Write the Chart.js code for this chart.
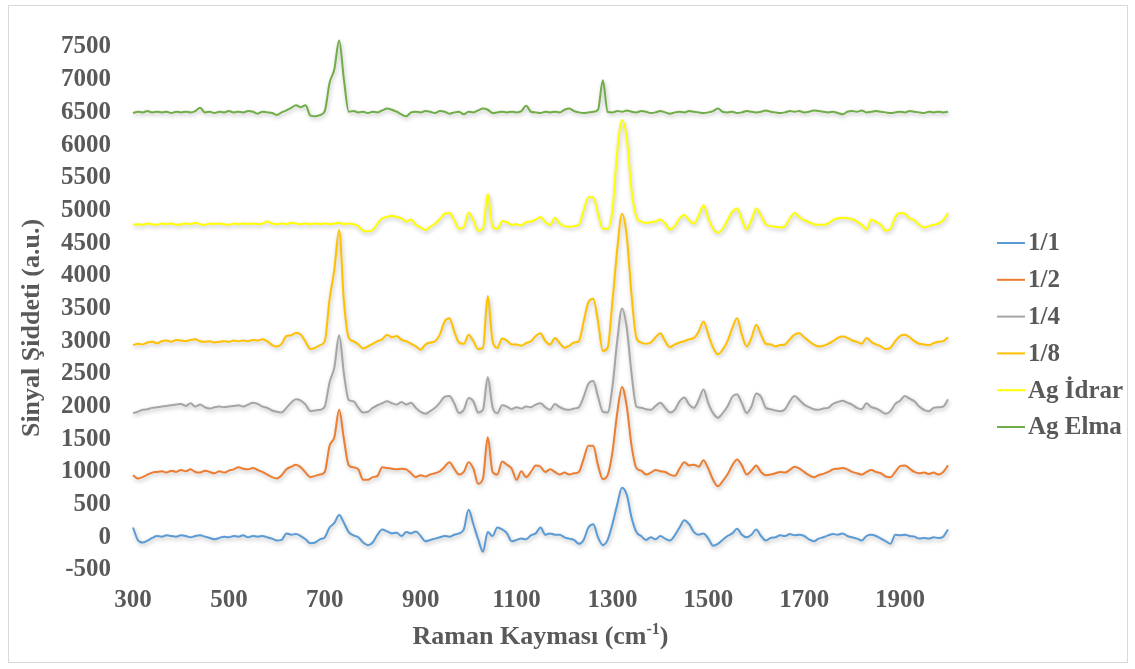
<!DOCTYPE html>
<html><head><meta charset="utf-8">
<script src="https://cdn.jsdelivr.net/npm/chart.js@4.4.1/dist/chart.umd.min.js"></script>
<style>html,body{margin:0;padding:0;background:#fff;} canvas{display:block;}</style>
</head><body>
<canvas id="c" width="1135" height="669"></canvas>
<script>
// ---- DATA ----
const ramanShift = [
 300,310,320,330,340,350,360,370,380,390,
 400,410,420,430,440,450,460,470,480,490,
 500,510,520,530,540,550,560,570,580,590,
 600,610,620,630,640,650,660,670,680,690,
 700,710,720,730,740,750,760,770,780,790,
 800,810,820,830,840,850,860,870,880,890,
 900,910,920,930,940,950,960,970,980,990,
 1000,1010,1020,1030,1040,1050,1060,1070,1080,1090,
 1100,1110,1120,1130,1140,1150,1160,1170,1180,1190,
 1200,1210,1220,1230,1240,1250,1260,1270,1280,1290,
 1300,1310,1320,1330,1340,1350,1360,1370,1380,1390,
 1400,1410,1420,1430,1440,1450,1460,1470,1480,1490,
 1500,1510,1520,1530,1540,1550,1560,1570,1580,1590,
 1600,1610,1620,1630,1640,1650,1660,1670,1680,1690,
 1700,1710,1720,1730,1740,1750,1760,1770,1780,1790,
 1800,1810,1820,1830,1840,1850,1860,1870,1880,1890,
 1900,1910,1920,1930,1940,1950,1960,1970,1980,1990,2000];

const s1_1 = [
 150,-40,-80,-50,-10,20,10,30,20,10,
 30,20,0,20,30,10,-10,-30,-10,10,
 0,20,10,30,0,20,10,20,0,-20,
 -50,-40,60,40,50,20,-30,-90,-80,-30,
 0,150,220,340,220,80,30,0,-80,-120,
 -80,40,120,90,60,70,20,80,60,90,
 20,-60,-40,-20,0,20,10,40,60,120,
 420,200,-30,-220,80,20,150,120,60,-60,
 -40,-20,-30,30,60,150,40,60,40,40,
 0,-20,-40,-100,-40,150,200,0,-120,-40,
 200,500,760,650,300,80,20,-40,0,-30,
 20,-20,-50,30,150,260,200,80,40,60,
 -20,-130,-100,-40,20,60,130,40,0,40,
 120,20,-50,-10,0,30,20,50,30,40,
 20,-30,-60,-20,0,30,50,40,60,20,
 0,-20,-50,20,40,20,-20,-60,-100,40,
 30,40,20,10,-20,-10,-20,0,-10,10,120];

const s1_2 = [
 950,900,920,960,990,1000,1010,990,1020,1000,
 1030,1010,1040,1000,990,1020,1000,980,1010,990,
 1020,1040,1070,1050,1040,1060,1030,1000,960,920,
 900,950,1040,1080,1110,1070,990,920,940,960,
 1000,1400,1530,1950,1500,1100,1070,1040,880,880,
 920,940,1070,1060,1050,1040,1050,1040,980,920,
 950,930,960,980,1010,1080,1150,1050,960,1000,
 1150,1050,820,900,1530,1000,960,1160,1110,1050,
 880,1010,920,1000,1100,1080,1000,1040,1000,960,
 990,960,980,1000,1200,1400,1400,1100,890,950,
 1300,1900,2300,2000,1400,1060,1020,960,990,1030,
 1010,1000,960,940,1050,1150,1100,1110,1080,1180,
 1050,880,780,860,960,1100,1190,1100,960,1020,
 1100,1000,950,960,980,1000,990,1030,1080,1050,
 1000,950,920,950,970,1000,1040,1050,1060,1040,
 1000,980,960,1000,1030,1000,980,930,920,1000,
 1090,1100,1050,1000,980,990,970,990,960,1000,1100];

const s1_4 = [
 1900,1920,1950,1960,1980,1990,2000,2010,2020,2030,
 2040,2010,2050,2000,2030,1990,1970,1990,2000,1990,
 2000,2010,2020,2000,2030,2060,2040,2000,1980,1940,
 1920,1910,1980,2060,2110,2090,2030,1930,1940,1950,
 2000,2370,2600,3090,2500,2100,2080,1980,1910,1920,
 1980,2020,2050,2080,2050,2030,2070,2030,2060,1980,
 1920,1890,1930,1980,2060,2150,2160,2050,1900,1950,
 2130,2080,1910,1950,2450,1990,1900,2020,2000,1960,
 1990,1970,2000,1990,2030,2050,1990,1950,2040,1990,
 1960,1950,1970,1990,2150,2350,2390,2150,1920,1910,
 2300,3000,3500,3200,2500,2000,1980,1960,1950,2010,
 2060,1980,1910,1950,2080,2140,2030,1980,2100,2260,
 2050,1900,1830,1900,2000,2150,2190,2050,1900,2000,
 2200,2150,1980,1960,1940,1930,1960,2080,2160,2100,
 2030,1990,1960,1950,1970,1980,2040,2070,2090,2060,
 2030,1980,1960,2050,1990,1970,1930,1890,1930,2040,
 2090,2160,2120,2080,2000,1950,1930,1980,1990,2000,2110];

const s1_8 = [
 2940,2960,2950,2980,2990,2970,3000,3010,2990,3020,
 3010,3000,3020,3030,3000,2990,3000,2980,2990,3000,
 2990,3010,3000,3010,3000,3020,3010,3030,3000,2940,
 2920,2960,3080,3090,3130,3100,2990,2880,2900,2940,
 3000,3640,4100,4700,3600,3050,3000,2950,2890,2920,
 2960,3000,3030,3100,3060,3080,3020,3000,2960,2920,
 2870,2950,2980,3000,3100,3300,3350,3150,2980,2960,
 3100,3000,2880,2900,3690,3000,2900,3040,3010,2950,
 2950,2930,2970,3000,3080,3120,3000,2950,3050,2970,
 2900,2930,2980,3000,3300,3600,3650,3300,2850,2900,
 3600,4400,4950,4600,3700,3050,2980,2960,2980,3060,
 3120,3000,2910,2950,2980,3000,3030,3050,3150,3300,
 3100,2900,2800,2870,3000,3200,3350,3100,2920,3050,
 3250,3100,2960,2950,2920,2940,2950,3030,3100,3120,
 3060,3000,2950,2920,2930,2960,3000,3050,3070,3050,
 3010,2990,2960,3050,2990,2950,2920,2880,2900,3000,
 3080,3100,3060,3000,2960,2950,2940,2970,2990,3000,3060];

const sAgIdrar = [
 4780,4790,4780,4800,4790,4780,4800,4790,4800,4780,
 4790,4800,4790,4810,4790,4780,4800,4790,4800,4790,
 4780,4800,4790,4800,4790,4800,4790,4800,4830,4800,
 4790,4800,4790,4810,4800,4790,4800,4790,4800,4790,
 4800,4790,4800,4810,4790,4800,4790,4760,4690,4680,
 4700,4800,4880,4900,4920,4900,4880,4830,4860,4780,
 4740,4700,4750,4800,4870,4950,4960,4850,4720,4750,
 4970,4850,4690,4720,5250,4750,4720,4840,4820,4780,
 4790,4770,4820,4830,4860,4900,4820,4780,4890,4800,
 4760,4750,4760,4780,5000,5200,5200,4950,4720,4720,
 5000,5900,6380,6100,5300,4900,4830,4810,4820,4830,
 4860,4800,4710,4760,4880,4930,4850,4800,4920,5080,
 4880,4720,4660,4720,4850,4980,5030,4860,4710,4850,
 5030,4920,4790,4760,4750,4740,4760,4880,4960,4900,
 4850,4820,4790,4780,4780,4800,4850,4880,4890,4880,
 4870,4830,4780,4710,4860,4820,4780,4690,4720,4900,
 4960,4950,4880,4850,4780,4740,4760,4780,4800,4850,4960];

const sAgElma = [
 6490,6510,6500,6520,6500,6510,6500,6510,6490,6510,
 6500,6510,6500,6520,6570,6500,6510,6490,6510,6500,
 6520,6500,6510,6500,6520,6510,6480,6510,6500,6490,
 6460,6500,6530,6570,6610,6580,6610,6450,6440,6460,
 6520,6950,7160,7600,7000,6510,6520,6500,6510,6490,
 6510,6500,6530,6560,6540,6510,6470,6440,6500,6510,
 6500,6520,6510,6490,6520,6510,6480,6500,6510,6470,
 6510,6500,6530,6560,6540,6490,6500,6510,6500,6510,
 6500,6520,6600,6510,6500,6490,6510,6500,6510,6500,
 6540,6560,6520,6500,6490,6500,6510,6540,6990,6510,
 6500,6520,6510,6530,6510,6500,6520,6510,6490,6500,
 6520,6500,6480,6500,6510,6500,6520,6510,6500,6490,
 6500,6520,6560,6510,6500,6510,6490,6500,6520,6510,
 6500,6510,6530,6510,6500,6490,6500,6520,6510,6520,
 6500,6510,6530,6520,6510,6500,6510,6490,6470,6510,
 6520,6510,6530,6500,6510,6520,6510,6500,6490,6500,
 6510,6500,6520,6510,6500,6490,6510,6500,6510,6500,6510];

const seriesNames = ['1/1', '1/2', '1/4', '1/8', 'Ag İdrar', 'Ag Elma'];
const seriesValues = [s1_1, s1_2, s1_4, s1_8, sAgIdrar, sAgElma];
const seriesColors = ['#5B9BD5', '#ED7D31', '#A5A5A5', '#FFC000', '#FFFF00', '#70AD47'];
const xTickValues = [300, 500, 700, 900, 1100, 1300, 1500, 1700, 1900];
const xMin = 300, xMax = 2000;
const yMin = -500, yMax = 7500, yStep = 500;
const xTitle = 'Raman Kayması (cm';
const xTitleSup = '-1';
const yTitle = 'Sinyal Şiddeti (a.u.)';

// ---- CHART ----
const FONT = "'Liberation Serif', 'Times New Roman', serif";
const TXT = '#595959';

const datasets = seriesNames.map((name, k) => ({
  label: name,
  data: ramanShift.map((x, i) => ({x: x, y: seriesValues[k][i]})),
  borderColor: seriesColors[k],
  backgroundColor: seriesColors[k],
  borderWidth: 2,
  pointRadius: 0,
  fill: false,
  clip: false,
  cubicInterpolationMode: 'monotone'
}));

const decorPlugin = {
  id: 'decor',
  beforeDraw(chart) {
    const ctx = chart.ctx;
    ctx.save();
    ctx.fillStyle = '#ffffff';
    ctx.fillRect(0, 0, chart.width, chart.height);
    ctx.strokeStyle = '#d9d9d9';
    ctx.lineWidth = 1;
    ctx.strokeRect(8.5, 5.5, 1119, 657);
    ctx.restore();
  },
  beforeDatasetsDraw(chart) {
    const ctx = chart.ctx;
    ctx.save();
    ctx.shadowColor = 'rgba(0,0,0,0.28)';
    ctx.shadowBlur = 4;
    ctx.shadowOffsetX = 1;
    ctx.shadowOffsetY = 2;
  },
  afterDatasetsDraw(chart) {
    chart.ctx.restore();
  },
  afterDraw(chart) {
    const ctx = chart.ctx;
    const ca = chart.chartArea;
    ctx.save();
    ctx.fillStyle = TXT;
    // x title with superscript
    const bigFont = "bold 26px " + FONT;
    const supFont = "bold 16px " + FONT;
    ctx.font = bigFont;
    const w1 = ctx.measureText(xTitle).width;
    const w3 = ctx.measureText(')').width;
    ctx.font = supFont;
    const w2 = ctx.measureText(xTitleSup).width;
    const total = w1 + w2 + w3;
    let x0 = (ca.left + ca.right) / 2 - total / 2;
    const yb = 644;
    ctx.textBaseline = 'alphabetic';
    ctx.textAlign = 'left';
    ctx.font = bigFont;
    ctx.fillText(xTitle, x0, yb);
    ctx.font = supFont;
    ctx.fillText(xTitleSup, x0 + w1, yb - 10);
    ctx.font = bigFont;
    ctx.fillText(')', x0 + w1 + w2, yb);
    // y title
    ctx.save();
    ctx.translate(32, 328);
    ctx.rotate(-Math.PI / 2);
    ctx.textAlign = 'center';
    ctx.textBaseline = 'middle';
    ctx.font = bigFont;
    ctx.fillText(yTitle, 0, 0);
    ctx.restore();
    // legend
    const lx = 997, lineLen = 28, ly0 = 243, dy = 36.8;
    ctx.font = "bold 25px " + FONT;
    ctx.textAlign = 'left';
    ctx.textBaseline = 'middle';
    chart.data.datasets.forEach((ds, i) => {
      const y = ly0 + i * dy;
      ctx.strokeStyle = ds.borderColor;
      ctx.lineWidth = 2;
      ctx.beginPath();
      ctx.moveTo(lx, y);
      ctx.lineTo(lx + lineLen, y);
      ctx.stroke();
      ctx.fillStyle = TXT;
      ctx.fillText(ds.label, lx + lineLen + 3, y + 1);
    });
    ctx.restore();
  }
};

const plainNumber = (v) => String(v);

new Chart(document.getElementById('c'), {
  type: 'line',
  data: { datasets: datasets },
  options: {
    responsive: false,
    animation: false,
    devicePixelRatio: 1,
    layout: { padding: { left: 0, top: 47, right: 187, bottom: 10 } },
    plugins: { legend: { display: false }, tooltip: { enabled: false } },
    scales: {
      x: {
        type: 'linear',
        min: xMin, max: xMax,
        grid: { display: false, drawTicks: false },
        border: { display: false },
        ticks: { color: TXT, font: { family: FONT, size: 25, weight: 'bold' }, padding: 16, maxRotation: 0, autoSkip: false, callback: plainNumber },
        afterBuildTicks(axis) { axis.ticks = xTickValues.map(v => ({ value: v })); },
        afterFit(axis) { axis.height = 89; }
      },
      y: {
        type: 'linear',
        min: yMin, max: yMax,
        grid: { display: false, drawTicks: false },
        border: { display: false },
        ticks: { stepSize: yStep, color: TXT, font: { family: FONT, size: 25, weight: 'bold' }, padding: 22, autoSkip: false, callback: plainNumber },
        afterFit(axis) { axis.width = 133; }
      }
    }
  },
  plugins: [decorPlugin]
});
</script>
</body></html>
